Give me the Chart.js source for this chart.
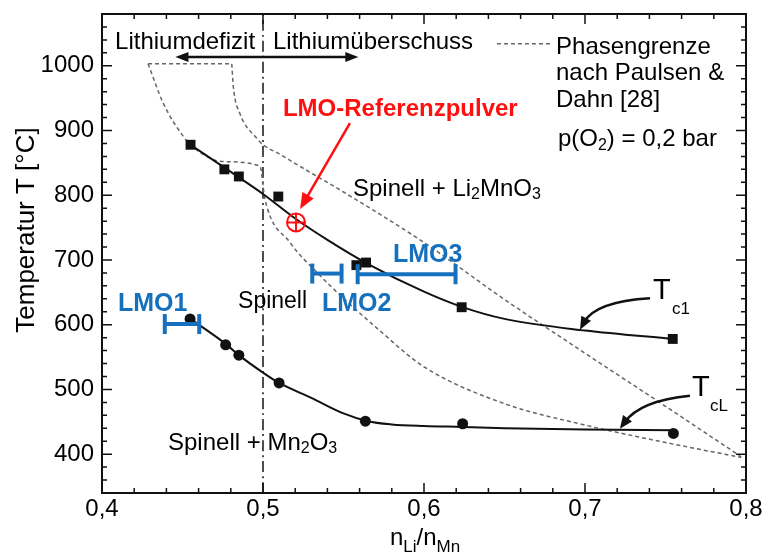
<!DOCTYPE html>
<html><head><meta charset="utf-8">
<script src="https://cdn.jsdelivr.net/npm/chart.js@4.4.1/dist/chart.umd.min.js"></script>
<style>html,body{margin:0;padding:0;background:#fff}#wrap{width:764px;height:554px}</style>
</head><body><div id="wrap"><canvas id="c" width="764" height="554"></canvas></div>
<script>
const FONT = "'Liberation Sans', Arial, Helvetica, sans-serif";

// ---- data ----
const tc1X = [0.455, 0.476, 0.485, 0.5095, 0.558, 0.564, 0.6234, 0.7545];
const tc1Y = [878, 840, 829, 798, 692, 696, 627, 578];
const tc1FitX = [0.455, 0.48, 0.50, 0.52, 0.54, 0.565, 0.60, 0.623, 0.65, 0.70, 0.755];
const tc1FitY = [878, 836, 802, 764, 731, 694, 651, 628, 609, 591, 578];

const tcLX = [0.4547, 0.4768, 0.485, 0.510, 0.5636, 0.624, 0.7549];
const tcLY = [609, 569, 553, 510, 451, 447, 432];
const tcLFitX = [0.455, 0.477, 0.485, 0.50, 0.51, 0.53, 0.55, 0.565, 0.58, 0.60, 0.624, 0.65, 0.70, 0.755];
const tcLFitY = [609, 570, 553, 526, 510, 487, 463, 451, 446, 443.5, 442, 440, 438, 437];

const phaseTopX = [0.4286, 0.4806];
const phaseTopY = [1003, 1003];
const phaseRightX = [0.4806, 0.4816, 0.4857, 0.4961, 0.50, 0.51, 0.52, 0.55, 0.60, 0.65, 0.70, 0.75, 0.797];
const phaseRightY = [1003, 967, 926, 888, 878, 864, 849, 805, 727, 639, 556, 474, 396];
const phaseLeftX = [0.4286, 0.4381, 0.4505, 0.4588, 0.4753, 0.4981, 0.5012, 0.5168, 0.5334, 0.5499, 0.5706, 0.60, 0.65, 0.70, 0.75, 0.797];
const phaseLeftY = [1003, 942, 891, 870, 852, 845, 794, 727, 681, 641, 595, 535, 478, 445, 418, 395];

const lmoNames = ['LMO1', 'LMO2', 'LMO3'];
const lmoFrom = [0.439, 0.5306, 0.5588];
const lmoTo = [0.4604, 0.5488, 0.6196];
const lmoT = [601, 679, 678];

const refX = 0.5205, refT = 758;
const boundaryX = 0.5;

const xMajor = [0.4, 0.5, 0.6, 0.7, 0.8];
const xTickLabels = ['0,4', '0,5', '0,6', '0,7', '0,8'];
const yMajor = [400, 500, 600, 700, 800, 900, 1000];
const yTickLabels = ['400', '500', '600', '700', '800', '900', '1000'];

const yTitle = 'Temperatur T [°C]';

// ---- helpers ----
const pts = (xs, ys) => xs.map((v, i) => ({ x: v, y: ys[i] }));
const isMajorX = v => xMajor.some(m => Math.abs(m - v) < 1e-6);
const isMajorY = v => yMajor.some(m => Math.abs(m - v) < 1e-6);
const BLUE = '#1570bd', RED = '#ff1010', DASH = '#666';

function rich(ctx, parts, x, y, size, color, bold) {
  let cx = x;
  parts.forEach(p => {
    const sub = p[1];
    const fs = sub ? Math.round(size * 0.68) : size;
    ctx.font = (bold ? 'bold ' : '') + fs + 'px ' + FONT;
    ctx.fillStyle = color;
    ctx.textAlign = 'left';
    ctx.textBaseline = 'alphabetic';
    ctx.fillText(p[0], cx, y + (sub ? size * 0.15 : 0));
    cx += ctx.measureText(p[0]).width;
  });
  return cx;
}
function head(ctx, x1, y1, x2, y2, len, w) {
  const a = Math.atan2(y2 - y1, x2 - x1);
  const bx = x2 - len * Math.cos(a), by = y2 - len * Math.sin(a);
  ctx.beginPath();
  ctx.moveTo(x2, y2);
  ctx.lineTo(bx + w * Math.sin(a), by - w * Math.cos(a));
  ctx.lineTo(bx - w * Math.sin(a), by + w * Math.cos(a));
  ctx.closePath();
  ctx.fill();
}

// annotation text, in data coordinates
const texts = [
  { p: [['Lithiumdefizit']], x: 0.4081, y: 1026.4, s: 24, c: '#000' },
  { p: [['Lithiumüberschuss']], x: 0.5062, y: 1026.4, s: 24, c: '#000' },
  { p: [['Phasengrenze']], x: 0.682, y: 1018.7, s: 24, c: '#000' },
  { p: [['nach Paulsen &']], x: 0.682, y: 977.4, s: 24, c: '#000' },
  { p: [['Dahn [28]']], x: 0.682, y: 936, s: 24, c: '#000' },
  { p: [['p(O'], ['2', 1], [') = 0,2 bar']], x: 0.6832, y: 876.2, s: 24, c: '#000' },
  { p: [['LMO-Referenzpulver']], x: 0.5124, y: 921.7, s: 24, c: RED, b: 1 },
  { p: [['Spinell + Li'], ['2', 1], ['MnO'], ['3', 1]], x: 0.5559, y: 799.2, s: 24, c: '#000' },
  { p: [['Spinell']], x: 0.4845, y: 626.5, s: 23, c: '#000' },
  { p: [['Spinell + Mn'], ['2', 1], ['O'], ['3', 1]], x: 0.441, y: 407, s: 24, c: '#000' },
  { p: [['LMO1']], x: 0.4099, y: 620.4, s: 25, c: BLUE, b: 1 },
  { p: [['LMO2']], x: 0.5366, y: 620.4, s: 25, c: BLUE, b: 1 },
  { p: [['LMO3']], x: 0.5807, y: 697, s: 25, c: BLUE, b: 1 },
  { p: [['T']], x: 0.7422, y: 640.3, s: 29, c: '#000' },
  { p: [['c1']], x: 0.754, y: 617.3, s: 17, c: '#000' },
  { p: [['T']], x: 0.7665, y: 490.1, s: 29, c: '#000' },
  { p: [['cL']], x: 0.7776, y: 467.2, s: 17, c: '#000' }
];

const decor = {
  id: 'decor',
  afterDatasetsDraw(chart) {
    const { ctx, chartArea: a, scales: { x, y } } = chart;
    const X = v => x.getPixelForValue(v), Y = v => y.getPixelForValue(v);
    ctx.save();
    ctx.strokeStyle = '#111';
    ctx.fillStyle = '#111';
    // ticks (inside, all four sides)
    ctx.lineWidth = 1.5;
    ctx.beginPath();
    x.ticks.forEach(t => {
      const px = X(t.value), L = isMajorX(t.value) ? 10 : 5;
      ctx.moveTo(px, a.bottom); ctx.lineTo(px, a.bottom - L);
      ctx.moveTo(px, a.top); ctx.lineTo(px, a.top + L);
    });
    y.ticks.forEach(t => {
      const py = Y(t.value), L = isMajorY(t.value) ? 10 : 5;
      ctx.moveTo(a.left, py); ctx.lineTo(a.left + L, py);
      ctx.moveTo(a.right, py); ctx.lineTo(a.right - L, py);
    });
    ctx.stroke();
    // frame
    ctx.lineWidth = 2;
    ctx.strokeRect(a.left, a.top, a.right - a.left, a.bottom - a.top);

    // legend sample for the dashed phase boundary
    ctx.strokeStyle = DASH; ctx.lineWidth = 1.5; ctx.setLineDash([4, 3]);
    ctx.beginPath(); ctx.moveTo(X(0.6453), Y(1034)); ctx.lineTo(X(0.6801), Y(1034)); ctx.stroke();
    ctx.setLineDash([]);

    // double arrow Lithiumdefizit / Lithiumueberschuss
    const ax1 = X(0.4456), ax2 = X(0.5592), ay = Y(1013.7);
    ctx.strokeStyle = '#111'; ctx.fillStyle = '#111'; ctx.lineWidth = 2.5;
    ctx.beginPath(); ctx.moveTo(ax1 + 10, ay); ctx.lineTo(ax2 - 10, ay); ctx.stroke();
    head(ctx, ax2 - 20, ay, ax2, ay, 13, 5);
    head(ctx, ax1 + 20, ay, ax1, ay, 13, 5);

    // red arrow to reference powder
    ctx.strokeStyle = RED; ctx.fillStyle = RED; ctx.lineWidth = 2.5;
    const r1x = X(0.554), r1y = Y(911.5), r2x = X(0.523), r2y = Y(778.6);
    const ang = Math.atan2(r2y - r1y, r2x - r1x);
    ctx.beginPath(); ctx.moveTo(r1x, r1y); ctx.lineTo(r2x - 12 * Math.cos(ang), r2y - 12 * Math.sin(ang)); ctx.stroke();
    head(ctx, r1x, r1y, r2x, r2y, 16, 6.5);

    // curved arrows to T labels
    ctx.strokeStyle = '#111'; ctx.fillStyle = '#111'; ctx.lineWidth = 2.5;
    [[0.7404, 640.8, 0.7062, 635.7, 0.6969, 592.3], [0.7652, 490.1, 0.7342, 482.5, 0.7217, 439.1]].forEach(q => {
      const sx = X(q[0]), sy = Y(q[1]), cx = X(q[2]), cy = Y(q[3]), ex = X(q[4]), ey = Y(q[5]);
      const a2 = Math.atan2(ey - cy, ex - cx);
      ctx.beginPath(); ctx.moveTo(sx, sy);
      ctx.quadraticCurveTo(cx, cy, ex - 8 * Math.cos(a2), ey - 8 * Math.sin(a2)); ctx.stroke();
      head(ctx, cx, cy, ex, ey, 13, 5.5);
    });

    // texts
    texts.forEach(t => rich(ctx, t.p, X(t.x), Y(t.y), t.s, t.c, t.b));

    // x axis title n_Li/n_Mn
    ctx.fillStyle = '#000'; ctx.textAlign = 'left'; ctx.textBaseline = 'alphabetic';
    let cx = 390;
    ctx.font = '24px ' + FONT; ctx.fillText('n', cx, 545); cx += ctx.measureText('n').width;
    ctx.font = '17px ' + FONT; ctx.fillText('Li', cx, 552); cx += ctx.measureText('Li').width;
    ctx.font = '24px ' + FONT; ctx.fillText('/n', cx, 545); cx += ctx.measureText('/n').width;
    ctx.font = '17px ' + FONT; ctx.fillText('Mn', cx, 552);

    // y axis title
    ctx.save();
    ctx.translate(27, 230); ctx.rotate(-Math.PI / 2);
    ctx.font = '26px ' + FONT; ctx.fillStyle = '#000'; ctx.textAlign = 'center'; ctx.textBaseline = 'middle';
    ctx.fillText(yTitle, 0, 0);
    ctx.restore();
    ctx.restore();
  }
};

const lineDs = (data, color, width, dash, order) => ({
  type: 'line', data, borderColor: color, borderWidth: width, borderDash: dash || [],
  pointRadius: 0, fill: false, cubicInterpolationMode: 'monotone', order
});

const datasets = [
  { type: 'scatter', data: [{ x: refX, y: refT }], pointStyle: 'circle', pointRadius: 9, borderColor: RED, borderWidth: 2, backgroundColor: 'rgba(255,255,255,0)', order: 0 },
  { type: 'scatter', data: [{ x: refX, y: refT }], pointStyle: 'cross', pointRadius: 9, borderColor: RED, borderWidth: 2, order: 0 },
  { type: 'scatter', data: pts(tc1X, tc1Y), pointStyle: 'rect', pointRadius: 7, backgroundColor: '#111', borderColor: '#111', borderWidth: 0, order: 1 },
  { type: 'scatter', data: pts(tcLX, tcLY), pointStyle: 'circle', pointRadius: 5.5, backgroundColor: '#111', borderColor: '#111', borderWidth: 0, order: 1 },
  lineDs(pts(tc1FitX, tc1FitY), '#111', 2, null, 2),
  lineDs(pts(tcLFitX, tcLFitY), '#111', 2, null, 2),
  lineDs(pts(phaseTopX, phaseTopY), DASH, 1.5, [4, 3], 3),
  lineDs(pts(phaseRightX, phaseRightY), DASH, 1.5, [4, 3], 3),
  lineDs(pts(phaseLeftX, phaseLeftY), DASH, 1.5, [4, 3], 3),
  lineDs([{ x: boundaryX, y: 340 }, { x: boundaryX, y: 1080 }], '#222', 1.6, [11, 4, 2, 4], 3)
];
lmoNames.forEach((n, i) => {
  datasets.push({
    type: 'line', label: n, data: [{ x: lmoFrom[i], y: lmoT[i] }, { x: lmoTo[i], y: lmoT[i] }],
    borderColor: BLUE, borderWidth: 4, pointStyle: 'line', pointRotation: 90, pointRadius: 10,
    pointBorderColor: BLUE, pointBorderWidth: 4, fill: false, order: 0
  });
});

new Chart(document.getElementById('c'), {
  data: { datasets },
  options: {
    responsive: false, animation: false, devicePixelRatio: 1,
    layout: { padding: { left: 0, top: 10, right: 18, bottom: 0 } },
    plugins: { legend: { display: false }, tooltip: { enabled: false } },
    scales: {
      x: {
        type: 'linear', min: 0.4, max: 0.8,
        grid: { display: false, drawTicks: false }, border: { display: false },
        ticks: {
          stepSize: 0.02, autoSkip: false, maxRotation: 0, minRotation: 0, padding: 2,
          color: '#000', font: { size: 24, family: FONT },
          callback: v => { const i = xMajor.findIndex(m => Math.abs(m - v) < 1e-6); return i >= 0 ? xTickLabels[i] : ''; }
        },
        afterFit: s => { s.height = 61; s.paddingLeft = 0; s.paddingRight = 0; }
      },
      y: {
        type: 'linear', min: 340, max: 1080,
        grid: { display: false, drawTicks: false }, border: { display: false },
        ticks: {
          stepSize: 20, autoSkip: false, padding: 8,
          color: '#000', font: { size: 24, family: FONT },
          callback: v => { const i = yMajor.findIndex(m => Math.abs(m - v) < 1e-6); return i >= 0 ? yTickLabels[i] : ''; }
        },
        afterFit: s => { s.width = 102; s.paddingTop = 0; s.paddingBottom = 0; }
      }
    }
  },
  plugins: [decor]
});
</script></body></html>
